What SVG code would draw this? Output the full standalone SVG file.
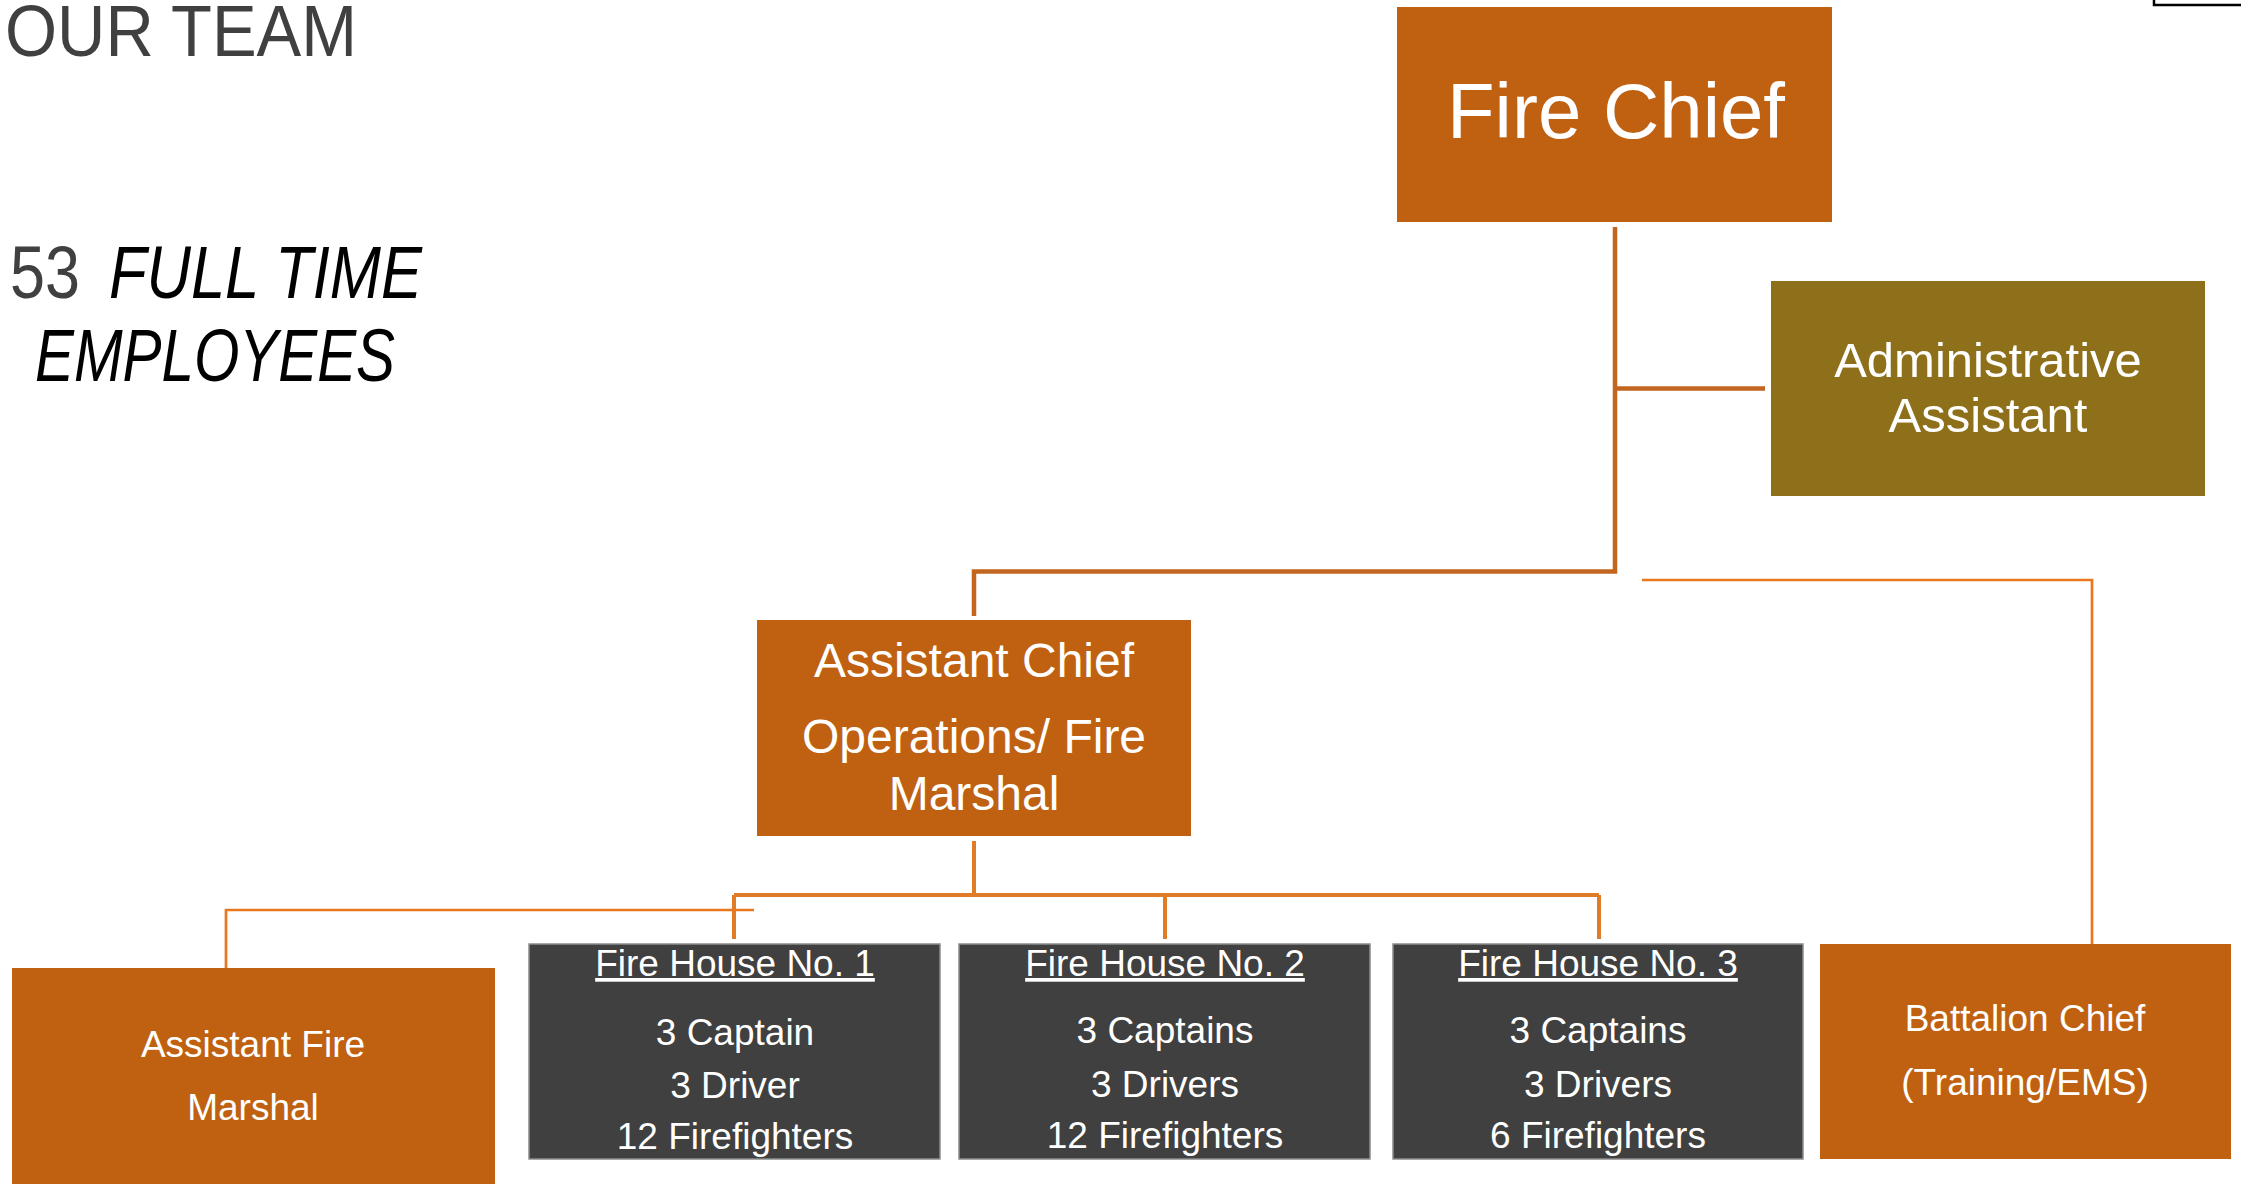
<svg xmlns="http://www.w3.org/2000/svg" width="2241" height="1184" viewBox="0 0 2241 1184">
<style>
.bg{fill:#ffffff}
.orange{fill:#C06111}
.olive{fill:#8E701B}
.dark{fill:#404040;stroke:#8C8C8C;stroke-width:1.5}
.t{font-family:"Liberation Sans",Arial,sans-serif;fill:#ffffff;text-anchor:middle}
.h{font-family:"Liberation Sans",Arial,sans-serif}
.c1{fill:none;stroke:#C2651F;stroke-width:4.5}
.c2{fill:none;stroke:#E07B28;stroke-width:4}
.c3{fill:none;stroke:#E8771F;stroke-width:2.7}
</style>
<rect class="bg" x="0" y="0" width="2241" height="1184"/>
<rect x="2154" y="-10" width="110" height="15" fill="none" stroke="#000000" stroke-width="2.5"/>
<g id="title">
<text class="h" x="5" y="56" font-size="72" fill="#404040" textLength="352" lengthAdjust="spacingAndGlyphs">OUR TEAM</text>
<text class="h" x="10" y="298" font-size="74" fill="#404040" textLength="70" lengthAdjust="spacingAndGlyphs">53</text>
<text class="h" x="109" y="298" font-size="74" fill="#000000" font-style="italic" textLength="313" lengthAdjust="spacingAndGlyphs">FULL TIME</text>
<text class="h" x="35" y="381" font-size="74" fill="#000000" font-style="italic" textLength="360" lengthAdjust="spacingAndGlyphs">EMPLOYEES</text>
</g>
<g id="connectors">
<path class="c1" d="M1615 227 V571.5 H974 V616"/>
<path class="c1" d="M1615 388.5 H1765"/>
<path class="c3" d="M1642 580 H2092 V953"/>
<path class="c2" d="M974 841 V895"/>
<path class="c2" d="M734 895 H1599"/>
<path class="c2" d="M734 895 V939 M1165 895 V939 M1599 895 V939"/>
<path class="c3" d="M754 910 H226 V968"/>
</g>
<g id="fire-chief">
<rect class="orange" x="1397" y="7" width="435" height="215"/>
<text class="t" x="1616" y="138" font-size="78">Fire Chief</text>
</g>
<g id="administrative-assistant">
<rect class="olive" x="1771" y="281" width="434" height="215"/>
<text class="t" x="1988" y="377" font-size="49">Administrative</text>
<text class="t" x="1988" y="432" font-size="49">Assistant</text>
</g>
<g id="assistant-chief">
<rect class="orange" x="757" y="620" width="434" height="216"/>
<text class="t" x="974" y="677" font-size="48">Assistant Chief</text>
<text class="t" x="974" y="753" font-size="48">Operations/ Fire</text>
<text class="t" x="974" y="810" font-size="48">Marshal</text>
</g>
<g id="assistant-fire-marshal">
<rect class="orange" x="12" y="968" width="483" height="230"/>
<text class="t" x="253" y="1057" font-size="37">Assistant Fire</text>
<text class="t" x="253" y="1120" font-size="37">Marshal</text>
</g>
<g id="fire-house-1">
<rect class="dark" x="529" y="944" width="411" height="215"/>
<text class="t" x="735" y="976" font-size="37" text-decoration="underline">Fire House No. 1</text>
<text class="t" x="735" y="1045" font-size="37">3 Captain</text>
<text class="t" x="735" y="1098" font-size="37">3 Driver</text>
<text class="t" x="735" y="1149" font-size="37">12 Firefighters</text>
</g>
<g id="fire-house-2">
<rect class="dark" x="959" y="944" width="411" height="215"/>
<text class="t" x="1165" y="976" font-size="37" text-decoration="underline">Fire House No. 2</text>
<text class="t" x="1165" y="1043" font-size="37">3 Captains</text>
<text class="t" x="1165" y="1097" font-size="37">3 Drivers</text>
<text class="t" x="1165" y="1148" font-size="37">12 Firefighters</text>
</g>
<g id="fire-house-3">
<rect class="dark" x="1393" y="944" width="410" height="215"/>
<text class="t" x="1598" y="976" font-size="37" text-decoration="underline">Fire House No. 3</text>
<text class="t" x="1598" y="1043" font-size="37">3 Captains</text>
<text class="t" x="1598" y="1097" font-size="37">3 Drivers</text>
<text class="t" x="1598" y="1148" font-size="37">6 Firefighters</text>
</g>
<g id="battalion-chief">
<rect class="orange" x="1820" y="944" width="411" height="215"/>
<text class="t" x="2025" y="1031" font-size="37">Battalion Chief</text>
<text class="t" x="2025" y="1095" font-size="37">(Training/EMS)</text>
</g>
</svg>
